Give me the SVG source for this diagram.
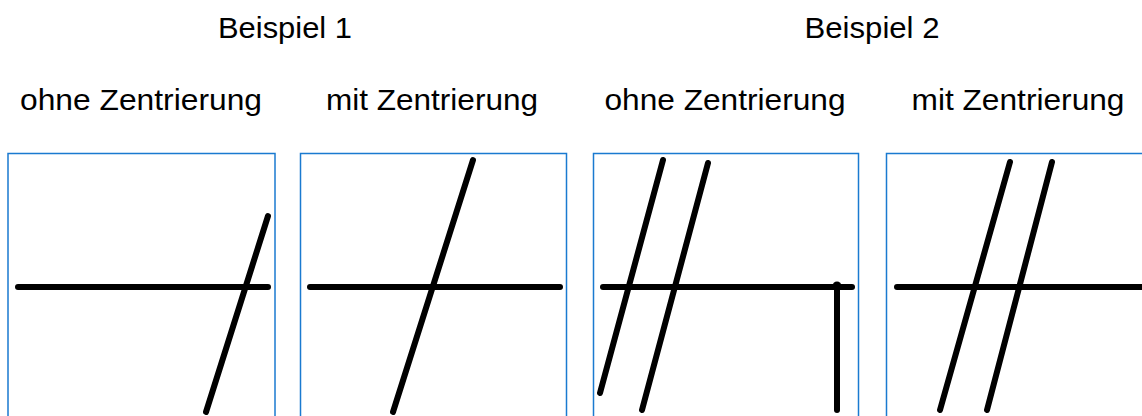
<svg xmlns="http://www.w3.org/2000/svg" width="1142" height="416" viewBox="0 0 1142 416">
<style>
.t{font-family:"Liberation Sans",Arial,sans-serif;font-size:30px;fill:#000;text-anchor:middle}
.f{fill:#fff;stroke:#1a7ad0;stroke-width:1.5}
.l{stroke:#000;stroke-width:6;stroke-linecap:round;fill:none}
</style>
<rect width="1142" height="416" fill="#fff"/>
<g id="titles">
<text class="t" x="285" y="38" textLength="134" lengthAdjust="spacingAndGlyphs">Beispiel 1</text>
<text class="t" x="872" y="38" textLength="135" lengthAdjust="spacingAndGlyphs">Beispiel 2</text>
<text class="t" x="141" y="110" textLength="242" lengthAdjust="spacingAndGlyphs">ohne Zentrierung</text>
<text class="t" x="432" y="110" textLength="212" lengthAdjust="spacingAndGlyphs">mit Zentrierung</text>
<text class="t" x="725" y="110" textLength="241" lengthAdjust="spacingAndGlyphs">ohne Zentrierung</text>
<text class="t" x="1018" y="110" textLength="213" lengthAdjust="spacingAndGlyphs">mit Zentrierung</text>
</g>
<g id="panel1">
<rect class="f" x="8" y="153.5" width="267" height="280"/>
<line class="l" x1="18" y1="287" x2="268" y2="287"/>
<line class="l" x1="268" y1="216" x2="206" y2="412"/>
</g>
<g id="panel2">
<rect class="f" x="300.5" y="153.5" width="266" height="280"/>
<line class="l" x1="310" y1="287" x2="560" y2="287"/>
<line class="l" x1="473" y1="160" x2="393" y2="412"/>
</g>
<g id="panel3">
<rect class="f" x="593.5" y="153.5" width="265" height="280"/>
<line class="l" x1="603" y1="287" x2="852" y2="287"/>
<line class="l" x1="663" y1="160" x2="600" y2="393"/>
<line class="l" x1="708" y1="163" x2="642" y2="410"/>
<line class="l" x1="837" y1="287" x2="837" y2="410"/>
<circle cx="837" cy="286" r="4.5"/>
</g>
<g id="panel4">
<rect class="f" x="886.5" y="153.5" width="280" height="280"/>
<line class="l" x1="897" y1="287" x2="1150" y2="287"/>
<line class="l" x1="1010" y1="162" x2="940" y2="410"/>
<line class="l" x1="1052" y1="162" x2="987" y2="410"/>
</g>
</svg>
